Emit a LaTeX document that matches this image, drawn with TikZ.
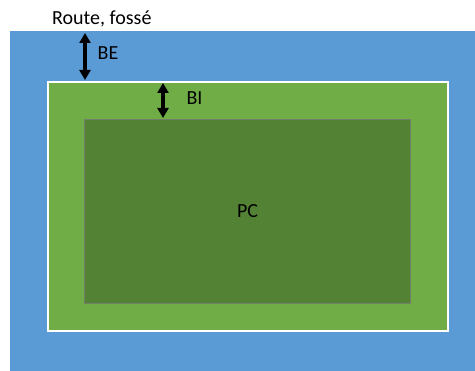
\documentclass[tikz,border=0pt]{standalone}
\usepackage{fontspec}
\setmainfont{Carlito}
\usetikzlibrary{arrows.meta}
\definecolor{zoneblue}{HTML}{5B9BD5}
\definecolor{zonegreen}{HTML}{70AD47}
\definecolor{zonedark}{HTML}{548235}
\begin{document}
\begin{tikzpicture}[x=1pt,y=-1pt,
  lbl/.style={inner sep=0pt,font=\fontsize{20}{24}\selectfont},
  dim/.style={line width=3.4pt,{Triangle[length=10pt,width=11pt]}-{Triangle[length=10pt,width=11pt]}}]
\useasboundingbox (0,0) rectangle (475,371);
\fill[white] (0,0) rectangle (475,371);
\fill[zoneblue] (10,31) rectangle (475,371);
\draw[white,line width=2pt,fill=zonegreen] (48,82) rectangle (448,331);
\draw[gray!70!zonedark,line width=0.8pt,fill=zonedark] (84.5,119) rectangle (410.5,303);
\node[lbl,anchor=base west] (route) at (52,25) {Route, fossé};
\coordinate (beTop) at (85,33);
\coordinate (beBot) at (85,80);
\coordinate (biTop) at (163,83);
\coordinate (biBot) at (163,118);
\draw[dim] (beTop) -- (beBot);
\draw[dim] (biTop) -- (biBot);
\node[lbl] (be) at (108,53) {BE};
\node[lbl] (bi) at (194.5,98.5) {BI};
\node[lbl] (pc) at (247.5,211.5) {PC};
\end{tikzpicture}
\end{document}
